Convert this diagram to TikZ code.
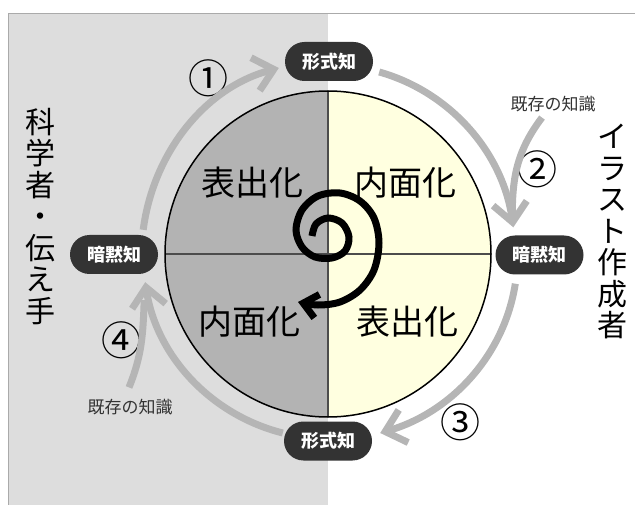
\documentclass[tikz,border=0pt]{standalone}
\usepackage{fontspec}
\newfontfamily\jp{Noto Sans CJK JP}
\usetikzlibrary{arrows.meta,calc}
\definecolor{panel}{HTML}{DDDDDD}
\definecolor{frame}{HTML}{AAAAAA}
\definecolor{leftq}{HTML}{B3B3B3}
\definecolor{rightq}{HTML}{FFFFE0}
\definecolor{nodefill}{HTML}{333333}
\definecolor{flow}{HTML}{B5B5B5}
\begin{document}
\begin{tikzpicture}[x=1pt,y=1pt,
  knode/.style={fill=nodefill, text=white, rounded corners=19.5pt, minimum width=88pt, minimum height=39pt, inner sep=0pt, font=\jp\bfseries\fontsize{18}{18}\selectfont},
  big/.style={font=\jp\fontsize{34}{34}\selectfont, inner sep=0pt},
  small/.style={font=\jp\fontsize{17}{17}\selectfont, text=black!80, inner sep=0pt},
  num/.style={font=\jp\fontsize{40}{40}\selectfont, inner sep=0pt},
  vert/.style={font=\jp\fontsize{30}{31.5}\selectfont, align=center, inner sep=0pt},
  flowarrow/.style={draw=flow, line width=7pt, -{Straight Barb[length=19pt,width=34pt]}},
  flowline/.style={draw=flow, line width=7pt},
  ]
\useasboundingbox (0,0) rectangle (635,-505);
\fill[panel] (8.5,-13.5) rectangle (328,-505);
\draw[frame, line width=1.5pt] (8.5,-505) -- (8.5,-13.5) -- (635,-13.5);

\coordinate (O) at (328,-254);
\fill[leftq] ($(O)+(0,163)$) arc[start angle=90, end angle=270, radius=163] -- cycle;
\fill[rightq] ($(O)+(0,-163)$) arc[start angle=-90, end angle=90, radius=163] -- cycle;
\draw[line width=1.3pt, black!70] ($(O)+(-163,0)$) -- ($(O)+(163,0)$);
\draw[line width=1.3pt, black!70] ($(O)+(0,163)$) -- ($(O)+(0,-163)$);
\draw[line width=1.5pt] (O) circle[radius=163];

\node[big] (q1) at (252,-183) {表出化};
\node[big] (q2) at (405,-183) {内面化};
\node[big] (q3) at (249,-322) {内面化};
\node[big] (q4) at (407,-322) {表出化};

\node[knode] (t) at (329,-61.5) {形式知};
\node[knode] (l) at (114,-254.5) {暗黙知};
\node[knode] (r) at (539.5,-255) {暗黙知};
\node[knode] (b) at (328,-441) {形式知};

\node[vert] (sci) at (40,-216.5) {科\\学\\者\\・\\伝\\え\\手};
\node[vert] (ill) at (612,-231.5) {イ\\ラ\\ス\\ト\\作\\成\\者};

\node[small] (k2) at (553,-104) {既存の知識};
\node[small] (k4) at (130,-407) {既存の知識};

\node[num] (n1) at (208,-78) {①};
\node[num] (n2) at (537,-169) {②};
\node[num] (n3) at (460,-422) {③};
\node[num] (n4) at (121,-340) {④};

\draw[flowline] ([xshift=-11pt,yshift=-5.5pt]k2.south) to[out=233,in=90] ([xshift=17pt,yshift=21pt]r.north west);
\draw[flowline] ([xshift=-1pt,yshift=11.5pt]k4.north) to[out=68,in=-92] ([xshift=-14pt,yshift=-26pt]l.south east);

\draw[flowarrow] ([xshift=-15pt,yshift=5pt]l.north east) to[out=82.6,in=194.8,looseness=0.93] ([xshift=-6pt,yshift=-6.5pt]t.west);
\draw[flowarrow] ([xshift=6pt,yshift=-10.5pt]t.east) to[out=-15.7,in=98,looseness=0.93] ([xshift=18pt,yshift=8pt]r.north west);
\draw[flowarrow] ([xshift=20pt,yshift=-9pt]r.south west) to[out=-98.8,in=16.2,looseness=0.93] ([xshift=8pt,yshift=8pt]b.east);
\draw[flowarrow] ([xshift=-1pt,yshift=8pt]b.west) to[out=165.9,in=278.7,looseness=0.93] ([xshift=-13pt,yshift=-8pt]l.south east);

\draw[line width=7pt, -{Straight Barb[length=14pt,width=24pt]}] plot[smooth, tension=0.55] coordinates {(312,-236) (316,-224) (328,-218) (342,-223) (349,-237) (345,-251) (332,-258) (315,-257) (302,-247) (296,-230) (302,-210) (318,-196) (340,-193) (360,-201) (374,-218) (379,-243) (374,-270) (360,-290) (340,-302) (318,-305) (298,-302)};
\end{tikzpicture}
\end{document}
